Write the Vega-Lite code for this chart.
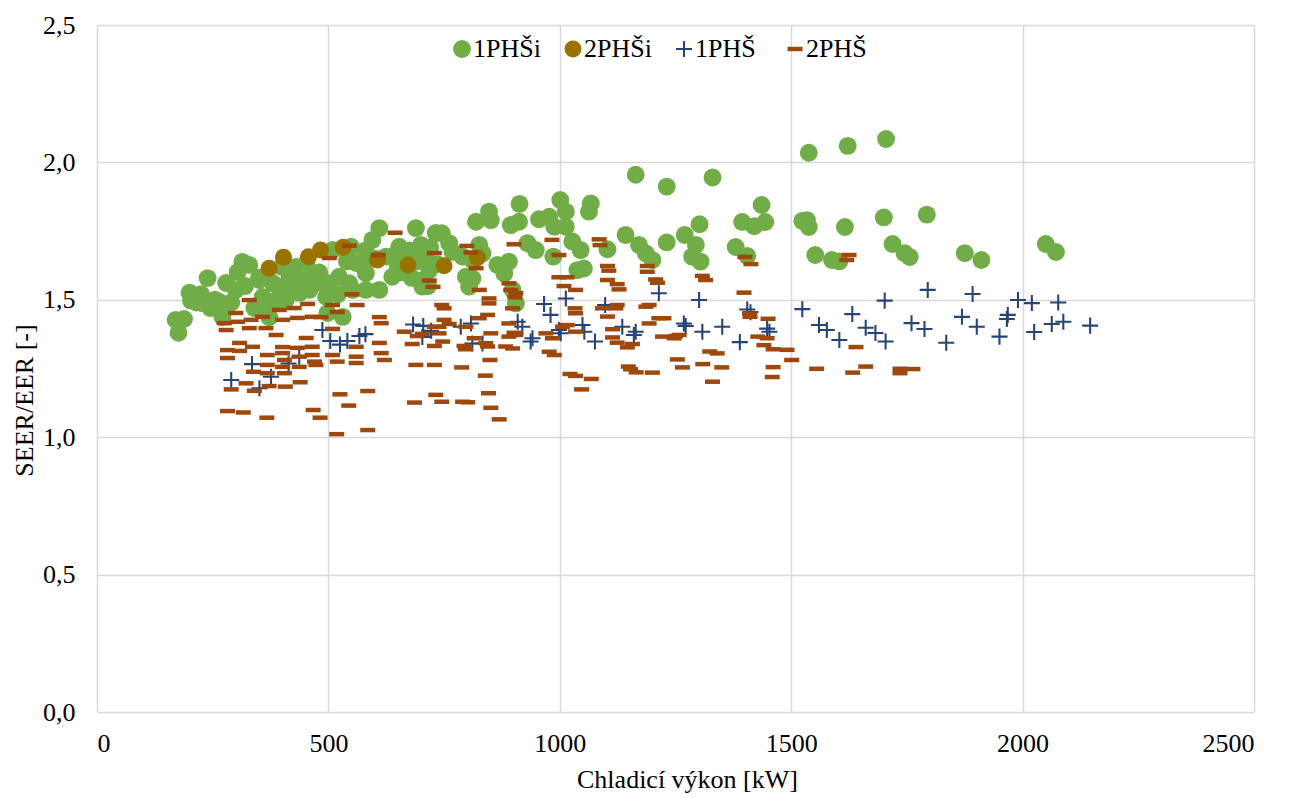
{
  "$schema": "https://vega.github.io/schema/vega-lite/v6.json",
  "width": 1157,
  "height": 687,
  "autosize": {"type": "none"},
  "padding": {"left": 97, "top": 25, "right": 52, "bottom": 86},
  "background": "white",
  "config": {
    "view": {"stroke": null},
    "font": "Liberation Serif",
    "axis": {
      "grid": true, "gridColor": "#d9d9d9", "gridWidth": 1.5,
      "domain": false, "ticks": false,
      "labelFont": "Liberation Serif", "labelFontSize": 26, "labelColor": "#000",
      "titleFont": "Liberation Serif", "titleFontSize": 26, "titleFontWeight": "normal", "titleColor": "#000"
    }
  },
  "datasets": {
    "pts": [
      {"s":"1PHŠi","x":170,"y":1.427},{"s":"1PHŠi","x":176,"y":1.38},{"s":"1PHŠi","x":188,"y":1.43},{"s":"1PHŠi","x":200,"y":1.526},{"s":"1PHŠi","x":203,"y":1.497},{"s":"1PHŠi","x":239,"y":1.579},{"s":"1PHŠi","x":228,"y":1.488},{"s":"1PHŠi","x":264,"y":1.493},{"s":"1PHŠi","x":279,"y":1.561},{"s":"1PHŠi","x":300,"y":1.536},{"s":"1PHŠi","x":271,"y":1.437},{"s":"1PHŠi","x":314,"y":1.638},{"s":"1PHŠi","x":329,"y":1.627},{"s":"1PHŠi","x":304,"y":1.601},{"s":"1PHŠi","x":351,"y":1.572},{"s":"1PHŠi","x":358,"y":1.51},{"s":"1PHŠi","x":365,"y":1.463},{"s":"1PHŠi","x":372,"y":1.437},{"s":"1PHŠi","x":394,"y":1.548},{"s":"1PHŠi","x":387,"y":1.499},{"s":"1PHŠi","x":408,"y":1.499},{"s":"1PHŠi","x":416,"y":1.584},{"s":"1PHŠi","x":437,"y":1.525},{"s":"1PHŠi","x":452,"y":1.634},{"s":"1PHŠi","x":473,"y":1.561},{"s":"1PHŠi","x":495,"y":1.511},{"s":"1PHŠi","x":498,"y":1.452},{"s":"1PHŠi","x":509,"y":1.681},{"s":"1PHŠi","x":523,"y":1.584},{"s":"1PHŠi","x":531,"y":1.438},{"s":"1PHŠi","x":549,"y":1.693},{"s":"1PHŠi","x":560,"y":1.634},{"s":"1PHŠi","x":552,"y":1.536},{"s":"1PHŠi","x":581,"y":1.597},{"s":"1PHŠi","x":595,"y":1.718},{"s":"1PHŠi","x":610,"y":1.761},{"s":"1PHŠi","x":624,"y":1.657},{"s":"1PHŠi","x":638,"y":1.584},{"s":"1PHŠi","x":653,"y":1.693},{"s":"1PHŠi","x":667,"y":1.634},{"s":"1PHŠi","x":689,"y":1.761},{"s":"1PHŠi","x":703,"y":1.548},{"s":"1PHŠi","x":718,"y":1.608},{"s":"1PHŠi","x":732,"y":1.743},{"s":"1PHŠi","x":610,"y":1.536},{"s":"1PHŠi","x":581,"y":1.536},{"s":"1PHŠi","x":459,"y":1.536},
      {"s":"1PHŠi","x":640,"y":1.66},{"s":"1PHŠi","x":660,"y":1.6},{"s":"1PHŠi","x":675,"y":1.68},{"s":"1PHŠi","x":690,"y":1.64},{"s":"1PHŠi","x":700,"y":1.7},{"s":"1PHŠi","x":710,"y":1.66},{"s":"1PHŠi","x":720,"y":1.69},{"s":"1PHŠi","x":735,"y":1.63},{"s":"1PHŠi","x":680,"y":1.58},{"s":"1PHŠi","x":700,"y":1.57},{"s":"1PHŠi","x":715,"y":1.55},{"s":"1PHŠi","x":650,"y":1.62},{"s":"1PHŠi","x":600,"y":1.65},{"s":"1PHŠi","x":580,"y":1.68},{"s":"1PHŠi","x":570,"y":1.63},{"s":"1PHŠi","x":540,"y":1.64},{"s":"1PHŠi","x":545,"y":1.56},{"s":"1PHŠi","x":520,"y":1.52},{"s":"1PHŠi","x":500,"y":1.56},{"s":"1PHŠi","x":480,"y":1.6},{"s":"1PHŠi","x":460,"y":1.58},{"s":"1PHŠi","x":440,"y":1.57},{"s":"1PHŠi","x":430,"y":1.62},{"s":"1PHŠi","x":420,"y":1.54},{"s":"1PHŠi","x":400,"y":1.62},{"s":"1PHŠi","x":380,"y":1.56},{"s":"1PHŠi","x":340,"y":1.47},{"s":"1PHŠi","x":350,"y":1.58},{"s":"1PHŠi","x":320,"y":1.55},{"s":"1PHŠi","x":290,"y":1.49},{"s":"1PHŠi","x":255,"y":1.5},{"s":"1PHŠi","x":245,"y":1.47},{"s":"1PHŠi","x":215,"y":1.49},{"s":"1PHŠi","x":225,"y":1.52},
      {"s":"1PHŠi","x":745,"y":1.742},{"s":"1PHŠi","x":761,"y":1.706},{"s":"1PHŠi","x":768,"y":1.675},{"s":"1PHŠi","x":790,"y":1.657},{"s":"1PHŠi","x":804,"y":1.548},{"s":"1PHŠi","x":811,"y":1.578},{"s":"1PHŠi","x":819,"y":1.784},{"s":"1PHŠi","x":847,"y":1.821},{"s":"1PHŠi","x":851,"y":1.79},{"s":"1PHŠi","x":826,"y":1.7},{"s":"1PHŠi","x":833,"y":1.669},{"s":"1PHŠi","x":797,"y":1.584},{"s":"1PHŠi","x":811,"y":1.645},{"s":"1PHŠi","x":865,"y":1.627},{"s":"1PHŠi","x":890,"y":1.639},{"s":"1PHŠi","x":880,"y":1.596},{"s":"1PHŠi","x":898,"y":1.536},{"s":"1PHŠi","x":905,"y":1.487},{"s":"1PHŠi","x":894,"y":1.772},{"s":"1PHŠi","x":912,"y":1.784},{"s":"1PHŠi","x":913,"y":1.849},{"s":"1PHŠi","x":930,"y":1.706},{"s":"1PHŠi","x":948,"y":1.681},{"s":"1PHŠi","x":955,"y":1.793},{"s":"1PHŠi","x":977,"y":1.802},{"s":"1PHŠi","x":988,"y":1.766},{"s":"1PHŠi","x":986,"y":1.657},{"s":"1PHŠi","x":1001,"y":1.863},{"s":"1PHŠi","x":1013,"y":1.766},{"s":"1PHŠi","x":1013,"y":1.821},{"s":"1PHŠi","x":1027,"y":1.712},{"s":"1PHŠi","x":1045,"y":1.681},{"s":"1PHŠi","x":1038,"y":1.608},{"s":"1PHŠi","x":1052,"y":1.614},{"s":"1PHŠi","x":1063,"y":1.821},{"s":"1PHŠi","x":1067,"y":1.851},{"s":"1PHŠi","x":1103,"y":1.684},{"s":"1PHŠi","x":1142,"y":1.736},{"s":"1PHŠi","x":1164,"y":1.955},{"s":"1PHŠi","x":1171,"y":1.7},{"s":"1PHŠi","x":1186,"y":1.669},{"s":"1PHŠi","x":1200,"y":1.645},{"s":"1PHŠi","x":1231,"y":1.912},{"s":"1PHŠi","x":1231,"y":1.709},{"s":"1PHŠi","x":1270,"y":1.736},{"s":"1PHŠi","x":1294,"y":1.7},{"s":"1PHŠi","x":1286,"y":1.657},{"s":"1PHŠi","x":1304,"y":1.639},{"s":"1PHŠi","x":1302,"y":1.775},{"s":"1PHŠi","x":1330,"y":1.945},
      {"s":"1PHŠi","x":1538,"y":2.035},{"s":"1PHŠi","x":1622,"y":2.06},{"s":"1PHŠi","x":1705,"y":2.085},{"s":"1PHŠi","x":1436,"y":1.845},{"s":"1PHŠi","x":1394,"y":1.783},{"s":"1PHŠi","x":1420,"y":1.768},{"s":"1PHŠi","x":1444,"y":1.783},{"s":"1PHŠi","x":1380,"y":1.692},{"s":"1PHŠi","x":1405,"y":1.66},{"s":"1PHŠi","x":1524,"y":1.787},{"s":"1PHŠi","x":1538,"y":1.765},{"s":"1PHŠi","x":1534,"y":1.79},{"s":"1PHŠi","x":1616,"y":1.765},{"s":"1PHŠi","x":1552,"y":1.663},{"s":"1PHŠi","x":1588,"y":1.645},{"s":"1PHŠi","x":1604,"y":1.64},{"s":"1PHŠi","x":1700,"y":1.8},{"s":"1PHŠi","x":1793,"y":1.81},{"s":"1PHŠi","x":1719,"y":1.703},{"s":"1PHŠi","x":1745,"y":1.67},{"s":"1PHŠi","x":1756,"y":1.656},{"s":"1PHŠi","x":1875,"y":1.67},{"s":"1PHŠi","x":1911,"y":1.645},{"s":"1PHŠi","x":2050,"y":1.703},{"s":"1PHŠi","x":2072,"y":1.674},
      {"s":"2PHŠi","x":372,"y":1.615},{"s":"2PHŠi","x":403,"y":1.655},{"s":"2PHŠi","x":457,"y":1.657},{"s":"2PHŠi","x":483,"y":1.681},{"s":"2PHŠi","x":532,"y":1.691},{"s":"2PHŠi","x":606,"y":1.645},{"s":"2PHŠi","x":672,"y":1.627},{"s":"2PHŠi","x":750,"y":1.624},{"s":"2PHŠi","x":822,"y":1.653},
      {"s":"1PHŠ","x":290,"y":1.208},{"s":"1PHŠ","x":335,"y":1.266},{"s":"1PHŠ","x":351,"y":1.178},{"s":"1PHŠ","x":376,"y":1.22},{"s":"1PHŠ","x":414,"y":1.268},{"s":"1PHŠ","x":437,"y":1.293},{"s":"1PHŠ","x":487,"y":1.39},{"s":"1PHŠ","x":504,"y":1.35},{"s":"1PHŠ","x":525,"y":1.337},{"s":"1PHŠ","x":541,"y":1.35},{"s":"1PHŠ","x":567,"y":1.368},{"s":"1PHŠ","x":580,"y":1.375},{"s":"1PHŠ","x":683,"y":1.41},{"s":"1PHŠ","x":705,"y":1.405},{"s":"1PHŠ","x":722,"y":1.387},{"s":"1PHŠ","x":703,"y":1.365},
      {"s":"1PHŠ","x":786,"y":1.402},{"s":"1PHŠ","x":808,"y":1.414},{"s":"1PHŠ","x":811,"y":1.341},{"s":"1PHŠ","x":833,"y":1.341},{"s":"1PHŠ","x":909,"y":1.42},{"s":"1PHŠ","x":919,"y":1.402},{"s":"1PHŠ","x":937,"y":1.348},{"s":"1PHŠ","x":941,"y":1.36},{"s":"1PHŠ","x":966,"y":1.485},{"s":"1PHŠ","x":980,"y":1.445},{"s":"1PHŠ","x":1002,"y":1.378},{"s":"1PHŠ","x":998,"y":1.39},{"s":"1PHŠ","x":1013,"y":1.505},{"s":"1PHŠ","x":1049,"y":1.408},{"s":"1PHŠ","x":1053,"y":1.384},{"s":"1PHŠ","x":1076,"y":1.348},{"s":"1PHŠ","x":1098,"y":1.481},{"s":"1PHŠ","x":1135,"y":1.402},{"s":"1PHŠ","x":1160,"y":1.372},{"s":"1PHŠ","x":1164,"y":1.384},{"s":"1PHŠ","x":1214,"y":1.524},{"s":"1PHŠ","x":1268,"y":1.414},{"s":"1PHŠ","x":1272,"y":1.405},{"s":"1PHŠ","x":1301,"y":1.499},{"s":"1PHŠ","x":1308,"y":1.384},{"s":"1PHŠ","x":1351,"y":1.402},
      {"s":"1PHŠ","x":1405,"y":1.465},{"s":"1PHŠ","x":1412,"y":1.455},{"s":"1PHŠ","x":1389,"y":1.346},{"s":"1PHŠ","x":1453,"y":1.384},{"s":"1PHŠ","x":1448,"y":1.395},{"s":"1PHŠ","x":1524,"y":1.466},{"s":"1PHŠ","x":1560,"y":1.408},{"s":"1PHŠ","x":1577,"y":1.39},{"s":"1PHŠ","x":1604,"y":1.354},{"s":"1PHŠ","x":1632,"y":1.448},{"s":"1PHŠ","x":1661,"y":1.398},{"s":"1PHŠ","x":1682,"y":1.379},{"s":"1PHŠ","x":1704,"y":1.348},{"s":"1PHŠ","x":1702,"y":1.497},{"s":"1PHŠ","x":1795,"y":1.536},{"s":"1PHŠ","x":1760,"y":1.415},{"s":"1PHŠ","x":1788,"y":1.394},{"s":"1PHŠ","x":1835,"y":1.344},{"s":"1PHŠ","x":1869,"y":1.438},{"s":"1PHŠ","x":1892,"y":1.521},{"s":"1PHŠ","x":1901,"y":1.402},{"s":"1PHŠ","x":1950,"y":1.366},{"s":"1PHŠ","x":1966,"y":1.43},{"s":"1PHŠ","x":1968,"y":1.445},{"s":"1PHŠ","x":1990,"y":1.499},{"s":"1PHŠ","x":2020,"y":1.488},{"s":"1PHŠ","x":2025,"y":1.383},{"s":"1PHŠ","x":2063,"y":1.412},{"s":"1PHŠ","x":2077,"y":1.49},{"s":"1PHŠ","x":2088,"y":1.42},{"s":"1PHŠ","x":2146,"y":1.406},
      {"s":"2PHŠ","x":644,"y":1.744},{"s":"2PHŠ","x":545,"y":1.697},{"s":"2PHŠ","x":502,"y":1.652},{"s":"2PHŠ","x":608,"y":1.663},{"s":"2PHŠ","x":729,"y":1.67},{"s":"2PHŠ","x":718,"y":1.57},{"s":"2PHŠ","x":726,"y":1.547},{"s":"2PHŠ","x":551,"y":1.52},{"s":"2PHŠ","x":562,"y":1.481},{"s":"2PHŠ","x":509,"y":1.481},{"s":"2PHŠ","x":519,"y":1.456},{"s":"2PHŠ","x":455,"y":1.485},{"s":"2PHŠ","x":426,"y":1.47},{"s":"2PHŠ","x":394,"y":1.463},{"s":"2PHŠ","x":358,"y":1.438},{"s":"2PHŠ","x":329,"y":1.499},{"s":"2PHŠ","x":333,"y":1.427},{"s":"2PHŠ","x":300,"y":1.452},{"s":"2PHŠ","x":304,"y":1.42},{"s":"2PHŠ","x":275,"y":1.415},{"s":"2PHŠ","x":279,"y":1.39},{"s":"2PHŠ","x":329,"y":1.397},{"s":"2PHŠ","x":365,"y":1.397},{"s":"2PHŠ","x":401,"y":1.427},{"s":"2PHŠ","x":433,"y":1.434},{"s":"2PHŠ","x":465,"y":1.438},{"s":"2PHŠ","x":484,"y":1.437},{"s":"2PHŠ","x":509,"y":1.394},{"s":"2PHŠ","x":387,"y":1.372},{"s":"2PHŠ","x":452,"y":1.361},{"s":"2PHŠ","x":610,"y":1.437},{"s":"2PHŠ","x":614,"y":1.415},{"s":"2PHŠ","x":664,"y":1.384},{"s":"2PHŠ","x":692,"y":1.368},{"s":"2PHŠ","x":703,"y":1.376},{"s":"2PHŠ","x":729,"y":1.402},
      {"s":"2PHŠ","x":282,"y":1.317},{"s":"2PHŠ","x":282,"y":1.288},{"s":"2PHŠ","x":308,"y":1.343},{"s":"2PHŠ","x":308,"y":1.314},{"s":"2PHŠ","x":336,"y":1.329},{"s":"2PHŠ","x":368,"y":1.299},{"s":"2PHŠ","x":368,"y":1.263},{"s":"2PHŠ","x":338,"y":1.238},{"s":"2PHŠ","x":368,"y":1.233},{"s":"2PHŠ","x":401,"y":1.328},{"s":"2PHŠ","x":401,"y":1.306},{"s":"2PHŠ","x":405,"y":1.281},{"s":"2PHŠ","x":401,"y":1.256},{"s":"2PHŠ","x":405,"y":1.233},{"s":"2PHŠ","x":433,"y":1.325},{"s":"2PHŠ","x":437,"y":1.293},{"s":"2PHŠ","x":437,"y":1.256},{"s":"2PHŠ","x":465,"y":1.329},{"s":"2PHŠ","x":465,"y":1.299},{"s":"2PHŠ","x":470,"y":1.275},{"s":"2PHŠ","x":473,"y":1.263},{"s":"2PHŠ","x":509,"y":1.299},{"s":"2PHŠ","x":519,"y":1.275},{"s":"2PHŠ","x":560,"y":1.329},{"s":"2PHŠ","x":560,"y":1.293},{"s":"2PHŠ","x":560,"y":1.27},{"s":"2PHŠ","x":610,"y":1.343},{"s":"2PHŠ","x":614,"y":1.306},{"s":"2PHŠ","x":621,"y":1.281},{"s":"2PHŠ","x":681,"y":1.339},{"s":"2PHŠ","x":689,"y":1.263},{"s":"2PHŠ","x":729,"y":1.263},{"s":"2PHŠ","x":729,"y":1.332},{"s":"2PHŠ","x":322,"y":1.196},{"s":"2PHŠ","x":290,"y":1.174},{"s":"2PHŠ","x":340,"y":1.169},{"s":"2PHŠ","x":372,"y":1.186},{"s":"2PHŠ","x":407,"y":1.184},{"s":"2PHŠ","x":439,"y":1.2},{"s":"2PHŠ","x":282,"y":1.095},{"s":"2PHŠ","x":316,"y":1.09},{"s":"2PHŠ","x":367,"y":1.071},{"s":"2PHŠ","x":467,"y":1.099},{"s":"2PHŠ","x":482,"y":1.071},{"s":"2PHŠ","x":518,"y":1.011},{"s":"2PHŠ","x":525,"y":1.156},{"s":"2PHŠ","x":544,"y":1.115},{"s":"2PHŠ","x":585,"y":1.168},{"s":"2PHŠ","x":585,"y":1.026},{"s":"2PHŠ","x":686,"y":1.126},{"s":"2PHŠ","x":732,"y":1.154},
      {"s":"2PHŠ","x":799,"y":1.696},{"s":"2PHŠ","x":808,"y":1.672},{"s":"2PHŠ","x":819,"y":1.615},{"s":"2PHŠ","x":901,"y":1.702},{"s":"2PHŠ","x":983,"y":1.718},{"s":"2PHŠ","x":998,"y":1.663},{"s":"2PHŠ","x":1085,"y":1.72},{"s":"2PHŠ","x":1087,"y":1.699},{"s":"2PHŠ","x":1103,"y":1.623},{"s":"2PHŠ","x":1106,"y":1.606},{"s":"2PHŠ","x":1103,"y":1.572},{"s":"2PHŠ","x":1124,"y":1.557},{"s":"2PHŠ","x":1128,"y":1.538},{"s":"2PHŠ","x":1189,"y":1.623},{"s":"2PHŠ","x":1189,"y":1.602},{"s":"2PHŠ","x":1207,"y":1.574},{"s":"2PHŠ","x":1211,"y":1.562},{"s":"2PHŠ","x":1308,"y":1.587},{"s":"2PHŠ","x":1315,"y":1.572},{"s":"2PHŠ","x":890,"y":1.56},{"s":"2PHŠ","x":894,"y":1.536},{"s":"2PHŠ","x":903,"y":1.509},{"s":"2PHŠ","x":905,"y":1.524},{"s":"2PHŠ","x":998,"y":1.582},{"s":"2PHŠ","x":1016,"y":1.582},{"s":"2PHŠ","x":1009,"y":1.55},{"s":"2PHŠ","x":1034,"y":1.536},{"s":"2PHŠ","x":826,"y":1.536},{"s":"2PHŠ","x":847,"y":1.505},{"s":"2PHŠ","x":847,"y":1.487},{"s":"2PHŠ","x":745,"y":1.481},{"s":"2PHŠ","x":750,"y":1.469},{"s":"2PHŠ","x":750,"y":1.427},{"s":"2PHŠ","x":844,"y":1.445},{"s":"2PHŠ","x":826,"y":1.433},{"s":"2PHŠ","x":898,"y":1.469},{"s":"2PHŠ","x":1033,"y":1.469},{"s":"2PHŠ","x":1034,"y":1.451},{"s":"2PHŠ","x":1092,"y":1.469},{"s":"2PHŠ","x":1103,"y":1.439},{"s":"2PHŠ","x":1124,"y":1.481},{"s":"2PHŠ","x":1121,"y":1.469},{"s":"2PHŠ","x":1186,"y":1.475},{"s":"2PHŠ","x":1193,"y":1.481},{"s":"2PHŠ","x":1214,"y":1.433},{"s":"2PHŠ","x":1225,"y":1.433},{"s":"2PHŠ","x":1193,"y":1.414},{"s":"2PHŠ","x":739,"y":1.402},{"s":"2PHŠ","x":761,"y":1.412},{"s":"2PHŠ","x":797,"y":1.402},{"s":"2PHŠ","x":890,"y":1.414},{"s":"2PHŠ","x":901,"y":1.38},{"s":"2PHŠ","x":1006,"y":1.402},{"s":"2PHŠ","x":1016,"y":1.408},{"s":"2PHŠ","x":1034,"y":1.384},{"s":"2PHŠ","x":1114,"y":1.393},{"s":"2PHŠ","x":1222,"y":1.366},{"s":"2PHŠ","x":1250,"y":1.368},{"s":"2PHŠ","x":739,"y":1.378},{"s":"2PHŠ","x":851,"y":1.378},{"s":"2PHŠ","x":970,"y":1.378},
      {"s":"2PHŠ","x":788,"y":1.254},{"s":"2PHŠ","x":849,"y":1.281},{"s":"2PHŠ","x":839,"y":1.224},{"s":"2PHŠ","x":846,"y":1.16},{"s":"2PHŠ","x":851,"y":1.107},{"s":"2PHŠ","x":869,"y":1.065},{"s":"2PHŠ","x":745,"y":1.129},{"s":"2PHŠ","x":790,"y":1.129},{"s":"2PHŠ","x":801,"y":1.127},{"s":"2PHŠ","x":977,"y":1.311},{"s":"2PHŠ","x":988,"y":1.299},{"s":"2PHŠ","x":1022,"y":1.23},{"s":"2PHŠ","x":1034,"y":1.223},{"s":"2PHŠ","x":1068,"y":1.212},{"s":"2PHŠ","x":1047,"y":1.174},{"s":"2PHŠ","x":1148,"y":1.257},{"s":"2PHŠ","x":1153,"y":1.247},{"s":"2PHŠ","x":1165,"y":1.236},{"s":"2PHŠ","x":1200,"y":1.235},{"s":"2PHŠ","x":1254,"y":1.283},{"s":"2PHŠ","x":1265,"y":1.254},{"s":"2PHŠ","x":1309,"y":1.266},{"s":"2PHŠ","x":1324,"y":1.312},{"s":"2PHŠ","x":1340,"y":1.305},{"s":"2PHŠ","x":1330,"y":1.202},{"s":"2PHŠ","x":1350,"y":1.254},{"s":"2PHŠ","x":747,"y":1.348},{"s":"2PHŠ","x":793,"y":1.332},{"s":"2PHŠ","x":796,"y":1.32},{"s":"2PHŠ","x":815,"y":1.36},{"s":"2PHŠ","x":840,"y":1.342},{"s":"2PHŠ","x":844,"y":1.33},{"s":"2PHŠ","x":883,"y":1.33},{"s":"2PHŠ","x":898,"y":1.323},{"s":"2PHŠ","x":890,"y":1.366},{"s":"2PHŠ","x":905,"y":1.372},{"s":"2PHŠ","x":984,"y":1.36},{"s":"2PHŠ","x":1114,"y":1.363},{"s":"2PHŠ","x":1124,"y":1.344},{"s":"2PHŠ","x":1146,"y":1.327},{"s":"2PHŠ","x":1157,"y":1.339},{"s":"2PHŠ","x":1247,"y":1.36},{"s":"2PHŠ","x":1258,"y":1.372},
      {"s":"2PHŠ","x":1398,"y":1.526},{"s":"2PHŠ","x":1411,"y":1.438},{"s":"2PHŠ","x":1410,"y":1.45},{"s":"2PHŠ","x":1450,"y":1.431},{"s":"2PHŠ","x":1428,"y":1.366},{"s":"2PHŠ","x":1448,"y":1.36},{"s":"2PHŠ","x":1441,"y":1.335},{"s":"2PHŠ","x":1461,"y":1.32},{"s":"2PHŠ","x":1491,"y":1.318},{"s":"2PHŠ","x":1501,"y":1.281},{"s":"2PHŠ","x":1461,"y":1.255},{"s":"2PHŠ","x":1459,"y":1.219},{"s":"2PHŠ","x":1555,"y":1.249},{"s":"2PHŠ","x":1633,"y":1.235},{"s":"2PHŠ","x":1661,"y":1.257},{"s":"2PHŠ","x":1640,"y":1.328},{"s":"2PHŠ","x":1735,"y":1.249},{"s":"2PHŠ","x":1735,"y":1.233},{"s":"2PHŠ","x":1763,"y":1.248},{"s":"2PHŠ","x":1400,"y":1.656},{"s":"2PHŠ","x":1413,"y":1.63},{"s":"2PHŠ","x":1625,"y":1.663},{"s":"2PHŠ","x":1620,"y":1.645}
    ]
  },
  "data": {"name": "pts"},
  "mark": {"type": "point", "filled": true, "opacity": 1, "strokeWidth": 0},
  "encoding": {
    "x": {
      "field": "x", "type": "quantitative",
      "scale": {"domain": [0, 2500], "nice": false, "zero": false},
      "axis": {"values": [0, 500, 1000, 1500, 2000, 2500], "format": "d", "labelPadding": 18, "title": "Chladicí výkon [kW]", "titlePadding": 10, "titleX": 590}
    },
    "y": {
      "field": "y", "type": "quantitative",
      "scale": {"domain": [0, 2.5], "nice": false, "zero": false},
      "axis": {"values": [0, 0.5, 1, 1.5, 2, 2.5], "labelPadding": 22, "labelExpr": "replace(format(datum.value, '.1f'), '.', ',')", "title": "SEER/EER [-]", "titlePadding": 5, "titleY": 375}
    },
    "color": {
      "field": "s", "type": "nominal",
      "scale": {"domain": ["1PHŠi", "2PHŠi", "1PHŠ", "2PHŠ"], "range": ["#70AD47", "#997300", "#264478", "#9E480E"]},
      "legend": {
        "orient": "none", "legendX": 352, "legendY": 11, "direction": "horizontal", "columns": 4, "gridAlign": "all",
        "columnPadding": 19, "labelOffset": -2, "labelFont": "Liberation Serif", "labelFontSize": 26, "labelColor": "#000",
        "title": null, "padding": 0, "symbolStrokeWidth": 0, "symbolOpacity": 1
      }
    },
    "shape": {
      "field": "s", "type": "nominal",
      "scale": {"domain": ["1PHŠi", "2PHŠi", "1PHŠ", "2PHŠ"], "range": ["circle", "circle", "M-1,-0.13H1V0.13H-1Z M-0.13,-1H0.13V1H-0.13Z", "M-1,-0.3H1V0.3H-1Z"]}
    },
    "size": {
      "field": "s", "type": "nominal",
      "scale": {"domain": ["1PHŠi", "2PHŠi", "1PHŠ", "2PHŠ"], "range": [320, 225, 225, 100]}
    }
  }
}
